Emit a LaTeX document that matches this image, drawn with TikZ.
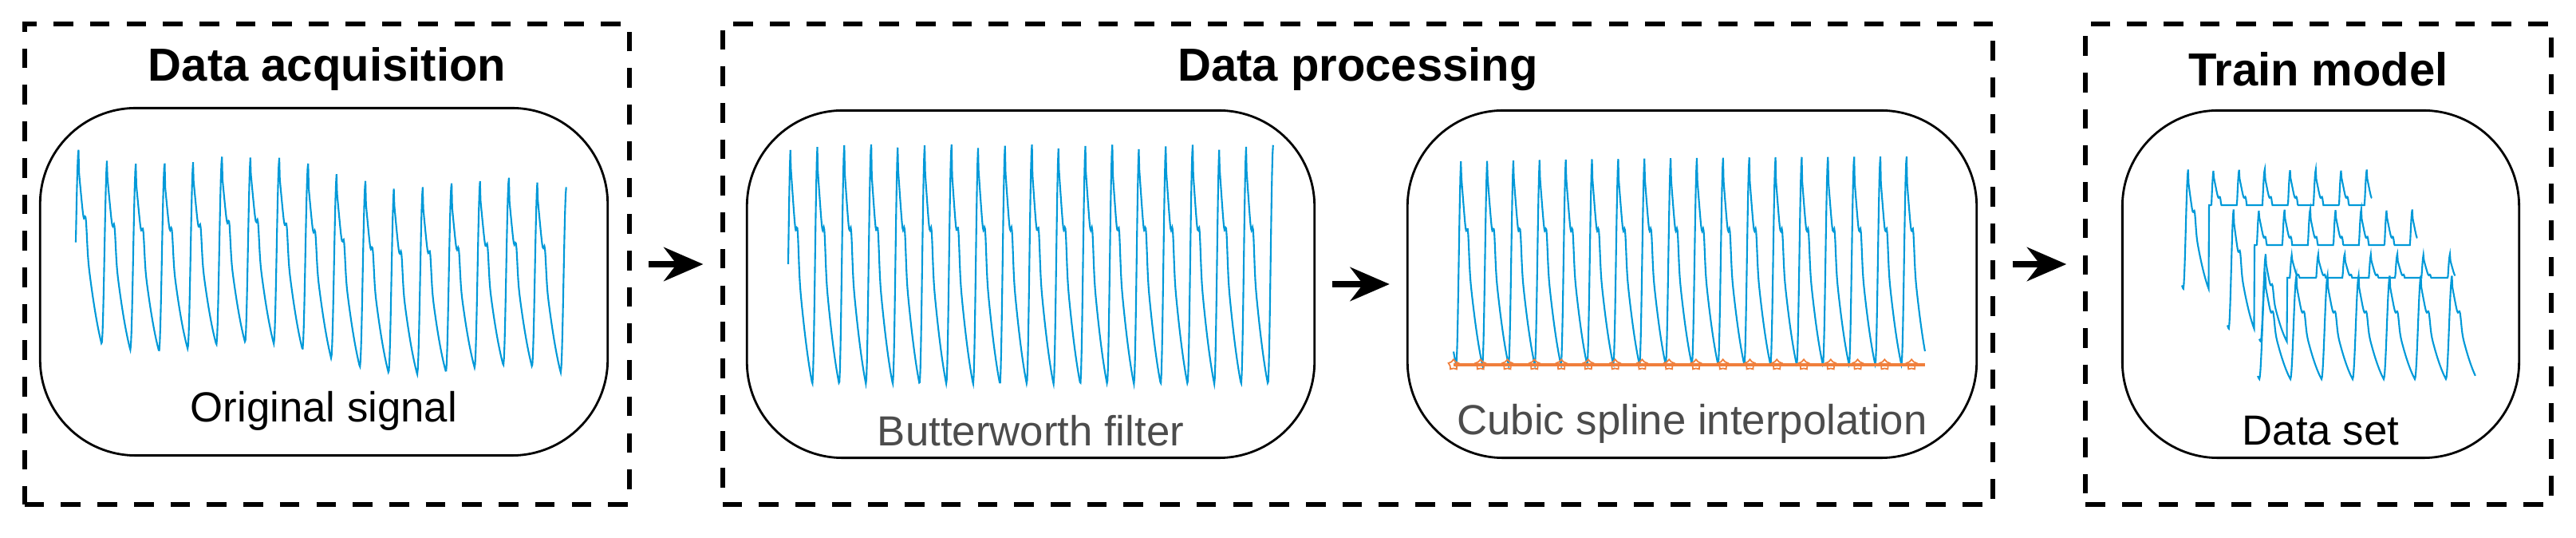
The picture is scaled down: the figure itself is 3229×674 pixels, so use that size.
\documentclass[tikz,border=0pt]{standalone}
\usepackage{fontspec}
\setmainfont{Liberation Sans}
\usetikzlibrary{arrows.meta,shapes.geometric}
\definecolor{sigblue}{HTML}{0099D8}
\definecolor{splorange}{HTML}{F07F3C}
\tikzset{
  declare function={
    ph(\t)=mod(\t,1);
    dq(\t)=1-(ph(\t)-0.2)/0.8;
    ppg(\t)=(ph(\t)<0.2) ? (1-cos(ph(\t)/0.2*180))/2 : 0.45*dq(\t)+0.45*dq(\t)*dq(\t)+0.12*exp(max(-(ph(\t)-0.45)^2/0.003,-9));},
  stage/.style={draw, line width=1.7pt, dash pattern=on 7pt off 6pt, minimum width=#1, minimum height=6.01cm, inner sep=0},
  panel/.style={draw, line width=0.8pt, rounded corners=1.2cm, minimum width=#1, minimum height=4.35cm, inner sep=0},
  title/.style={font=\fontsize{16.5}{20}\selectfont\bfseries},
  lbl/.style={font=\fontsize{15}{18}\selectfont},
  sig/.style={sigblue, line width=0.6pt},
  arr/.style={-{Stealth[length=14pt,width=12pt]}, line width=2.2pt, shorten <=6pt, shorten >=6pt},
}
\begin{document}
\begin{tikzpicture}[x=0.01cm, y=-0.01cm]
  \useasboundingbox (0,0) rectangle (3229,674);
  % stages
  \node[stage=7.58cm] (acq) at (410,331) {};
  \node[stage=15.92cm] (proc) at (1702,331) {};
  \node[stage=5.83cm] (train) at (2906,331) {};
  \node[title] (acqtitle) at (410,87) {Data acquisition};
  \node[title] (proctitle) at (1702,87) {Data processing};
  \node[title] (traintitle) at (2906,87) {Train model};
  % panels
  \node[panel=7.11cm] (orig) at (406,353) {};
  \node[panel=7.11cm] (butter) at (1292,356) {};
  \node[panel=7.13cm] (spline) at (2121,356) {};
  \node[panel=4.97cm] (dset) at (2909,356) {};
  \node[lbl] (origlbl) at (406,515) {Original signal};
  \node[lbl, text=black!70] (butterlbl) at (1292,540) {Butterworth filter};
  \node[lbl, text=black!70] (splinelbl) at (2121,531) {Cubic spline interpolation};
  \node[lbl] (dsetlbl) at (2909,540) {Data set};
  % signals
  \draw[sig] plot[domain=0.1:17.2, samples=900] ({95+(\x-0.1)*615/17.1}, {185+235*(1-ppg(\x))+3.2*\x+12*sin(\x*40)});
  \draw[sig] plot[domain=0.1:18.2, samples=900] ({988+(\x-0.1)*608/18.1}, {181+300*(1-ppg(\x))});
  \draw[sig] plot[domain=0.9:18.9, samples=900] ({1822+(\x-0.9)*591/18}, {196+261*(1-ppg(\x))});
  \draw[splorange, line width=1.2pt] (1822,457) -- (2413,457);
  \foreach \k in {0,...,17}
    \node[splorange, star, star points=5, draw, inner sep=0.9pt, line width=0.5pt] (knot\k) at ({1822+\k*591/17.5},457) {};
  \draw[sig] plot[domain=0.95:8.4, samples=400] ({2735+(\x-0.95)*32}, {212+45*(1-max(ppg(\x),0.55))*(\x>2)/0.45 + 150*(1-ppg(\x))*(\x<=2)});
  \draw[sig] plot[domain=0.95:8.4, samples=400] ({2792+(\x-0.95)*32}, {262+45*(1-max(ppg(\x),0.55))*(\x>2)/0.45 + 150*(1-ppg(\x))*(\x<=2)});
  \draw[sig] plot[domain=0.95:8.4, samples=400] ({2832+(\x-0.95)*33}, {318+30*(1-max(ppg(\x),0.6))*(\x>2)/0.4 + 110*(1-ppg(\x))*(\x<=2)});
  \draw[sig] plot[domain=0.95:7.95, samples=400] ({2830+(\x-0.95)*39}, {345+130*(1-ppg(\x))});
  % arrows
  \draw[arr] (acq) -- (proc);
  \draw[arr] (butter) -- (spline);
  \draw[arr] (proc) -- (train);
\end{tikzpicture}
\end{document}
